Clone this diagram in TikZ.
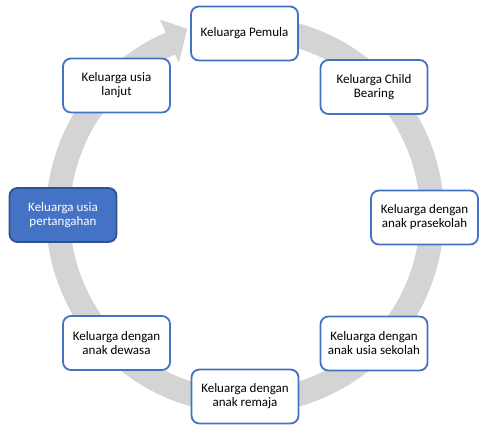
\documentclass[tikz,border=0pt]{standalone}
\usepackage{fontspec}
\setmainfont{Carlito}
\usetikzlibrary{calc}
\definecolor{bandgray}{RGB}{212,212,212}
\definecolor{boxblue}{RGB}{68,114,196}
\definecolor{darkblue}{RGB}{47,82,143}
\tikzset{
  stagebox/.style={draw=boxblue, line width=1.8pt, fill=white, rounded corners=8pt,
    minimum width=107pt, minimum height=54pt, align=center, text=black,
    font=\fontsize{13}{14}\selectfont, inner sep=2pt},
  activebox/.style={stagebox, draw=darkblue, fill=boxblue, text=white},
  band/.style={fill=bandgray}
}
\begin{document}
\begin{tikzpicture}[x=1pt,y=1pt]
\useasboundingbox (0,0) rectangle (479,426);
\coordinate (C) at (245,211);
% circular arrow band
\fill[band] ($(C)+(75:199)$) arc[start angle=75, end angle=-246.5, radius=199]
  -- ($(C)+(-246.5:213)$) -- ($(C)+(-252.8:195)$) -- ($(C)+(-246.5:166)$)
  -- ($(C)+(-246.5:175)$) arc[start angle=-246.5, end angle=75, radius=175] -- cycle;
% stages
\node[stagebox] (n1) at (244.5,392.5) {Keluarga Pemula};
\node[stagebox] (n2) at (374,339) {Keluarga Child\\Bearing};
\node[stagebox] (n3) at (424.5,208.5) {Keluarga dengan\\anak prasekolah};
\node[stagebox] (n4) at (374,82.5) {Keluarga dengan\\anak usia sekolah};
\node[stagebox] (n5) at (245,29.5) {Keluarga dengan\\anak remaja};
\node[stagebox] (n6) at (116.5,83) {Keluarga dengan\\anak dewasa};
\node[activebox] (n7) at (63,211) {Keluarga usia\\pertangahan};
\node[stagebox] (n8) at (116.5,340.5) {Keluarga usia\\lanjut};
\end{tikzpicture}
\end{document}
